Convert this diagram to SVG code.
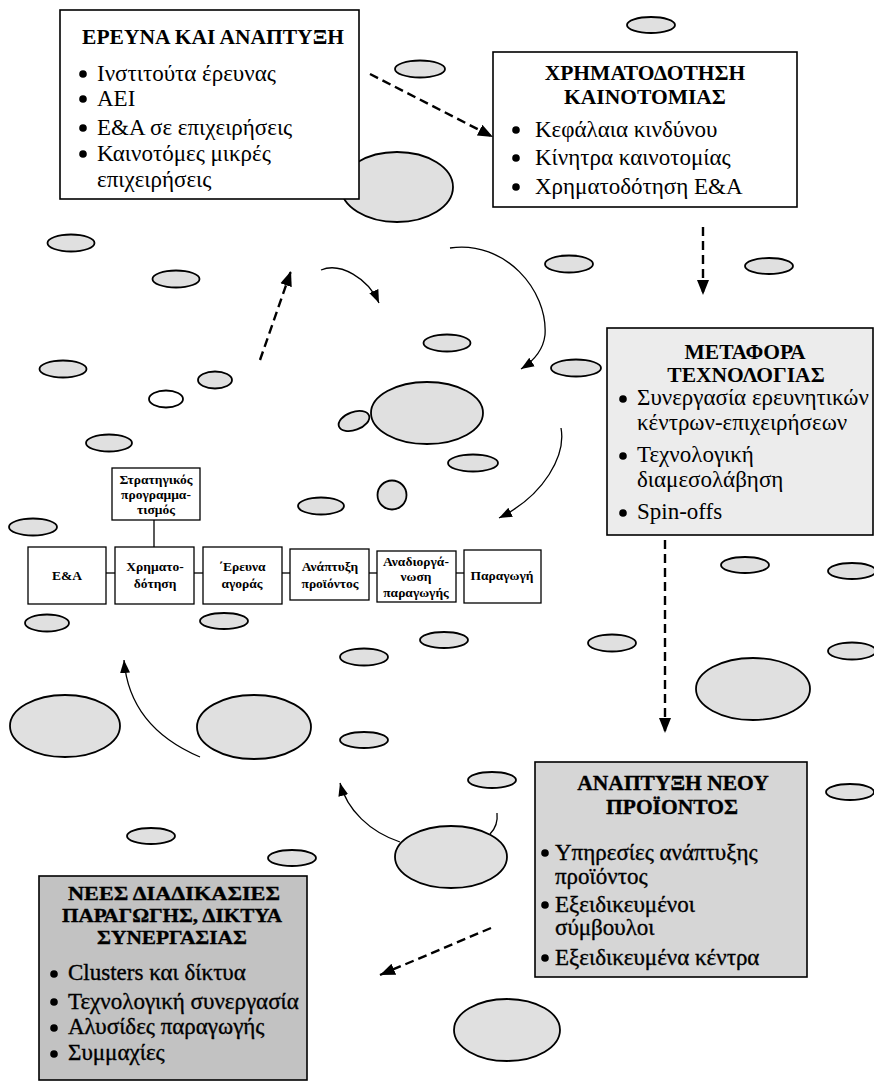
<svg xmlns="http://www.w3.org/2000/svg" width="874" height="1084" viewBox="0 0 874 1084">
<style>
.bx{stroke:#000;stroke-width:1.6}
.el{fill:#e0e0e0;stroke:#000;stroke-width:1.8}
.t{font-family:"Liberation Serif","Times New Roman",serif;fill:#000}
.ti{font-weight:bold;font-size:21.5px;text-anchor:middle}
.ti5{font-weight:bold;font-size:19px;text-anchor:middle}
.b{font-size:23px}
.sm{font-weight:bold;font-size:13.5px;text-anchor:middle}
.dk{stroke:#000;stroke-width:0.35}
.dash{fill:none;stroke:#000;stroke-width:2.4;stroke-dasharray:9 5}
.sol{fill:none;stroke:#000;stroke-width:1.3}
.ln{stroke:#000;stroke-width:1.3}
</style>
<defs>
<marker id="ah" markerWidth="16" markerHeight="14" refX="15" refY="7" orient="auto" markerUnits="userSpaceOnUse">
<path d="M0,1 L15,7 L0,13 Z" fill="#000"/>
</marker>
<marker id="ahs" markerWidth="14" markerHeight="12" refX="13" refY="6" orient="auto" markerUnits="userSpaceOnUse">
<path d="M0,1 L13,6 L0,11 Z" fill="#000"/>
</marker>
</defs>
<rect width="874" height="1084" fill="#fff"/>

<g id="ellipses">
<ellipse class="el" cx="651" cy="25" rx="24" ry="8"/>
<ellipse class="el" cx="420" cy="69" rx="25" ry="8.5"/>
<ellipse class="el" cx="397" cy="187" rx="56" ry="35"/>
<ellipse class="el" cx="71" cy="243" rx="23.5" ry="8.5"/>
<ellipse class="el" cx="176" cy="279" rx="23.5" ry="8.5"/>
<ellipse class="el" cx="569" cy="264" rx="24" ry="8.5"/>
<ellipse class="el" cx="769" cy="266" rx="24" ry="8"/>
<ellipse class="el" cx="447" cy="343" rx="23.5" ry="8.5"/>
<ellipse class="el" cx="63" cy="369" rx="23.5" ry="8.5"/>
<ellipse class="el" cx="215" cy="380" rx="17" ry="8.5"/>
<ellipse class="el" cx="166" cy="399" rx="17" ry="8.5" style="fill:#fff"/>
<ellipse class="el" cx="576" cy="368" rx="25" ry="8.5"/>
<ellipse class="el" cx="427" cy="413" rx="56" ry="31"/>
<ellipse class="el" cx="354" cy="421" rx="16" ry="9" transform="rotate(-20 354 421)"/>
<ellipse class="el" cx="109" cy="443" rx="23" ry="8.5"/>
<ellipse class="el" cx="473" cy="463" rx="25" ry="8.5"/>
<ellipse class="el" cx="392" cy="495" rx="14.5" ry="14.5"/>
<ellipse class="el" cx="321" cy="506" rx="23" ry="8.5"/>
<ellipse class="el" cx="33" cy="527" rx="24" ry="8.5"/>
<ellipse class="el" cx="47" cy="623" rx="22" ry="8.5"/>
<ellipse class="el" cx="224" cy="621" rx="24" ry="8"/>
<ellipse class="el" cx="745" cy="565" rx="24" ry="8"/>
<ellipse class="el" cx="852" cy="571" rx="24" ry="8"/>
<ellipse class="el" cx="444" cy="640" rx="24" ry="8"/>
<ellipse class="el" cx="364" cy="657" rx="24" ry="8.5"/>
<ellipse class="el" cx="612" cy="643" rx="24" ry="8.5"/>
<ellipse class="el" cx="852" cy="651" rx="24" ry="8.5"/>
<ellipse class="el" cx="753" cy="689" rx="57" ry="31"/>
<ellipse class="el" cx="65" cy="726" rx="55" ry="31"/>
<ellipse class="el" cx="254" cy="727" rx="57" ry="32"/>
<ellipse class="el" cx="364" cy="740" rx="24" ry="8"/>
<ellipse class="el" cx="492" cy="780" rx="24" ry="8"/>
<ellipse class="el" cx="850" cy="792" rx="24" ry="8"/>
<ellipse class="el" cx="151" cy="836" rx="24" ry="8"/>
<ellipse class="el" cx="292" cy="858" rx="24" ry="8"/>
<ellipse class="el" cx="451" cy="857" rx="56" ry="31"/>
<ellipse class="el" cx="507" cy="1030" rx="53" ry="31"/>
</g>

<g id="connectors">
<path class="dash" d="M370,74 L493,137" marker-end="url(#ah)"/>
<path class="dash" d="M703,227 L703,295" marker-end="url(#ah)"/>
<path class="dash" d="M665,540 L665,733" marker-end="url(#ah)"/>
<path class="dash" d="M491,928 L380,975" marker-end="url(#ah)"/>
<path class="dash" d="M260,360 L291,271" marker-end="url(#ah)"/>
<path class="sol" d="M321,270 C340,262 368,278 379,303" marker-end="url(#ahs)"/>
<path class="sol" d="M450,248 C505,240 548,290 545,335 C543,352 532,362 521,369" marker-end="url(#ahs)"/>
<path class="sol" d="M561,428 C566,455 545,495 499,518" marker-end="url(#ahs)"/>
<path class="sol" d="M200,757 C160,740 128,710 124,660" marker-end="url(#ahs)"/>
<path class="sol" d="M400,842 C370,832 347,810 340,783" marker-end="url(#ahs)"/>
<path class="sol" d="M497,813 C498,822 496,828 490,834"/>
<line class="ln" x1="154" y1="520" x2="154" y2="547"/>
<line class="ln" x1="106" y1="573" x2="115" y2="573"/>
<line class="ln" x1="194" y1="573" x2="203" y2="573"/>
<line class="ln" x1="282" y1="573" x2="290" y2="573"/>
<line class="ln" x1="369" y1="573" x2="377" y2="573"/>
<line class="ln" x1="456" y1="573" x2="464" y2="573"/>
</g>

<g id="n-research" class="t">
<rect class="bx" x="60" y="10" width="299" height="189" fill="#fff"/>
<text class="t ti" x="213" y="44">ΕΡΕΥΝΑ ΚΑΙ ΑΝΑΠΤΥΞΗ</text>
<circle cx="83" cy="74" r="3.8"/><circle cx="83" cy="99" r="3.8"/><circle cx="83" cy="128" r="3.8"/><circle cx="83" cy="154" r="3.8"/>
<text class="t b" x="97" y="81">Ινστιτούτα έρευνας</text>
<text class="t b" x="97" y="106">ΑΕΙ</text>
<text class="t b" x="97" y="135">Ε&amp;Α σε επιχειρήσεις</text>
<text class="t b" x="97" y="161">Καινοτόμες μικρές</text>
<text class="t b" x="97" y="187">επιχειρήσεις</text>
</g>

<g id="n-funding" class="t">
<rect class="bx" x="493" y="52" width="304" height="155" fill="#fff"/>
<text class="t ti" x="645" y="80">ΧΡΗΜΑΤΟΔΟΤΗΣΗ</text>
<text class="t ti" x="645" y="104">ΚΑΙΝΟΤΟΜΙΑΣ</text>
<circle cx="516" cy="130" r="3.8"/><circle cx="516" cy="158" r="3.8"/><circle cx="516" cy="187" r="3.8"/>
<text class="t b" x="535" y="137">Κεφάλαια κινδύνου</text>
<text class="t b" x="535" y="165">Κίνητρα καινοτομίας</text>
<text class="t b" x="535" y="194">Χρηματοδότηση Ε&amp;Α</text>
</g>

<g id="n-transfer" class="t">
<rect class="bx" x="607" y="328" width="266" height="207" fill="#ececec"/>
<text class="t ti" x="745" y="359">ΜΕΤΑΦΟΡΑ</text>
<text class="t ti" x="746" y="382">ΤΕΧΝΟΛΟΓΙΑΣ</text>
<circle cx="623" cy="399" r="3.8"/><circle cx="623" cy="456" r="3.8"/><circle cx="623" cy="513" r="3.8"/>
<text class="t b" x="637" y="405">Συνεργασία ερευνητικών</text>
<text class="t b" x="637" y="430">κέντρων-επιχειρήσεων</text>
<text class="t b" x="637" y="462">Τεχνολογική</text>
<text class="t b" x="637" y="487">διαμεσολάβηση</text>
<text class="t b" x="637" y="519">Spin-offs</text>
</g>

<g id="n-strategy" class="t">
<rect class="bx" x="112" y="468" width="88" height="52" fill="#fff" style="stroke-width:1.3"/>
<text class="t sm" x="156" y="484">Στρατηγικός</text>
<text class="t sm" x="156" y="499">προγραμμα-</text>
<text class="t sm" x="156" y="514">τισμός</text>
</g>
<g id="n-ea" class="t">
<rect class="bx" x="28" y="547" width="78" height="57" fill="#fff" style="stroke-width:1.3"/>
<text class="t sm" x="67" y="580">Ε&amp;Α</text>
</g>
<g id="n-chrimato" class="t">
<rect class="bx" x="115" y="547" width="79" height="57" fill="#fff" style="stroke-width:1.3"/>
<text class="t sm" x="155" y="571">Χρηματο-</text>
<text class="t sm" x="155" y="588">δότηση</text>
</g>
<g id="n-market" class="t">
<rect class="bx" x="203" y="547" width="79" height="57" fill="#fff" style="stroke-width:1.3"/>
<text class="t sm" x="242" y="571">΄Ερευνα</text>
<text class="t sm" x="242" y="588">αγοράς</text>
</g>
<g id="n-product" class="t">
<rect class="bx" x="290" y="549" width="79" height="51" fill="#fff" style="stroke-width:1.3"/>
<text class="t sm" x="330" y="571">Ανάπτυξη</text>
<text class="t sm" x="330" y="588">προϊόντος</text>
</g>
<g id="n-reorg" class="t">
<rect class="bx" x="377" y="551" width="79" height="51" fill="#fff" style="stroke-width:1.3"/>
<text class="t sm" x="416" y="566">Αναδιοργά-</text>
<text class="t sm" x="416" y="581">νωση</text>
<text class="t sm" x="416" y="597">παραγωγής</text>
</g>
<g id="n-production" class="t">
<rect class="bx" x="464" y="550" width="77" height="53" fill="#fff" style="stroke-width:1.3"/>
<text class="t sm" x="502" y="580">Παραγωγή</text>
</g>

<g id="n-newproduct" class="t">
<rect class="bx" x="535" y="762" width="272" height="215" fill="#d6d6d6"/>
<text class="t ti dk" x="673" y="790">ΑΝΑΠΤΥΞΗ ΝΕΟΥ</text>
<text class="t ti dk" x="672" y="814">ΠΡΟΪΟΝΤΟΣ</text>
<circle cx="545" cy="853" r="3.8"/><circle cx="545" cy="905" r="3.8"/><circle cx="545" cy="958" r="3.8"/>
<text class="t b dk" x="555" y="860">Υπηρεσίες ανάπτυξης</text>
<text class="t b dk" x="555" y="884">προϊόντος</text>
<text class="t b dk" x="555" y="912">Εξειδικευμένοι</text>
<text class="t b dk" x="555" y="935">σύμβουλοι</text>
<text class="t b dk" x="555" y="965">Εξειδικευμένα κέντρα</text>
</g>

<g id="n-networks" class="t">
<rect class="bx" x="39" y="876" width="268" height="204" fill="#c2c2c2"/>
<text class="t ti5 dk" x="174" y="900" textLength="212" lengthAdjust="spacingAndGlyphs">ΝΕΕΣ ΔΙΑΔΙΚΑΣΙΕΣ</text>
<text class="t ti5 dk" x="172" y="922" textLength="220" lengthAdjust="spacingAndGlyphs">ΠΑΡΑΓΩΓΗΣ, ΔΙΚΤΥΑ</text>
<text class="t ti5 dk" x="172" y="944" textLength="150" lengthAdjust="spacingAndGlyphs">ΣΥΝΕΡΓΑΣΙΑΣ</text>
<circle cx="54" cy="974" r="3.8"/><circle cx="54" cy="1002" r="3.8"/><circle cx="54" cy="1028" r="3.8"/><circle cx="54" cy="1054" r="3.8"/>
<text class="t b dk" x="68" y="980">Clusters και δίκτυα</text>
<text class="t b dk" x="68" y="1009">Τεχνολογική συνεργασία</text>
<text class="t b dk" x="68" y="1034">Αλυσίδες παραγωγής</text>
<text class="t b dk" x="68" y="1060">Συμμαχίες</text>
</g>
</svg>
